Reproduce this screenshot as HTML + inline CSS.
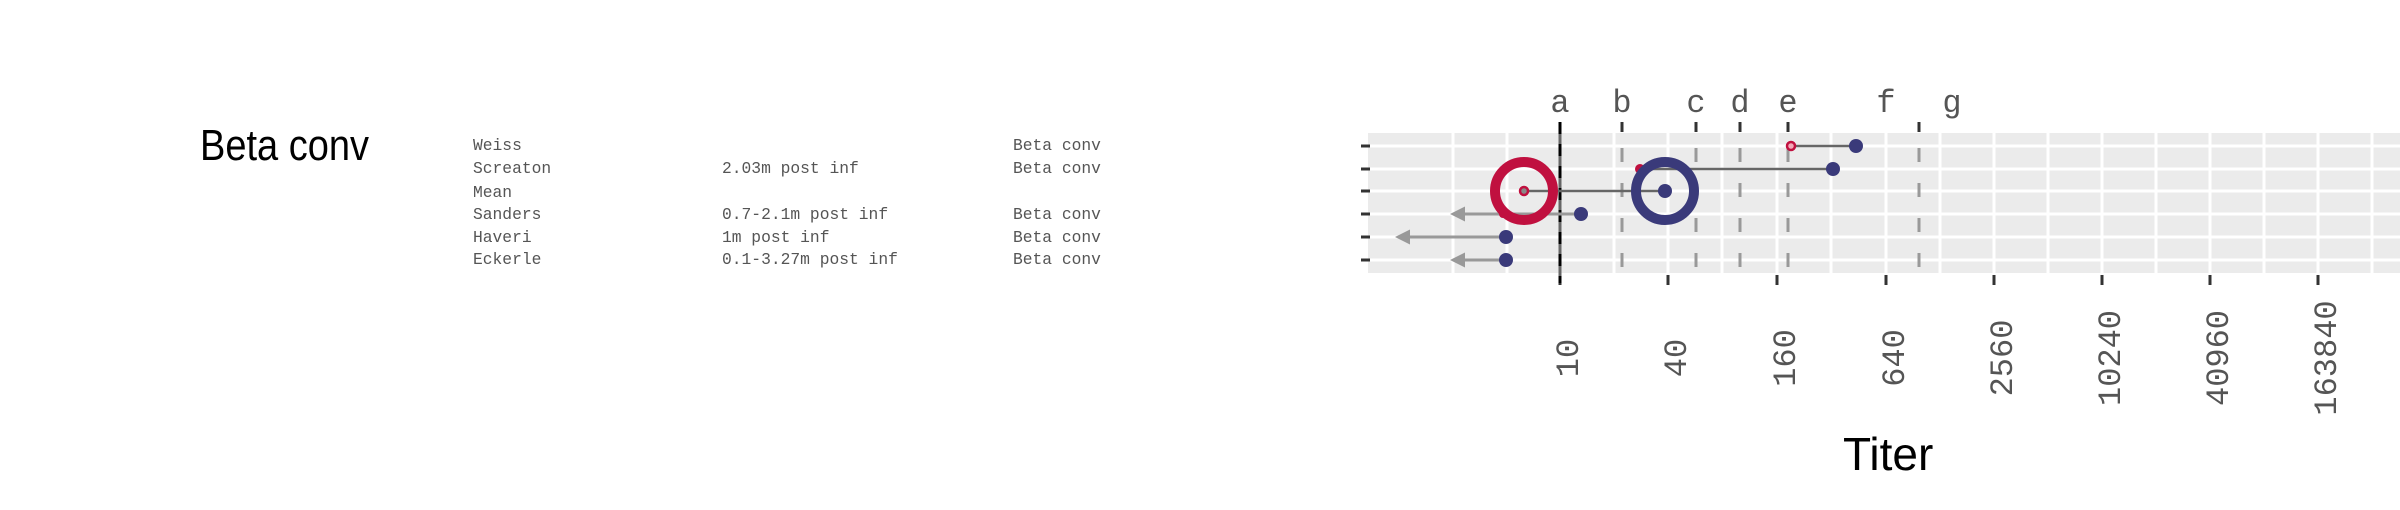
<!DOCTYPE html>
<html><head><meta charset="utf-8"><style>
html,body{margin:0;padding:0;background:#fff;}
svg{display:block;}
</style></head><body>
<svg width="2400" height="510" viewBox="0 0 2400 510" xmlns="http://www.w3.org/2000/svg">
<defs>
<marker id="ah" viewBox="0 0 10 10" refX="2" refY="5" markerWidth="5" markerHeight="5" orient="auto-start-reverse">
<path d="M0,0 L10,5 L0,10 Z" fill="#999"/>
</marker>
</defs>
<text x="200" y="160" font-family="Liberation Sans, sans-serif" font-size="40" fill="#000" transform="translate(200,160) scale(0.95,1.08) translate(-200,-160)">Beta conv</text>
<g font-family="Liberation Mono, monospace" font-size="16.3" fill="#555">
<text x="473" y="150">Weiss</text>
<text x="473" y="173">Screaton</text>
<text x="473" y="197">Mean</text>
<text x="473" y="219">Sanders</text>
<text x="473" y="242">Haveri</text>
<text x="473" y="264">Eckerle</text>
<text x="722" y="173">2.03m post inf</text>
<text x="722" y="219">0.7-2.1m post inf</text>
<text x="722" y="242">1m post inf</text>
<text x="722" y="264">0.1-3.27m post inf</text>
<text x="1013" y="150">Beta conv</text>
<text x="1013" y="173">Beta conv</text>
<text x="1013" y="219">Beta conv</text>
<text x="1013" y="242">Beta conv</text>
<text x="1013" y="264">Beta conv</text>
</g>
<rect x="1368" y="133" width="1032" height="140" fill="#ebebeb"/>
<g stroke="#fff" stroke-width="3">
<line x1="1368" x2="2400" y1="146" y2="146"/><line x1="1368" x2="2400" y1="169" y2="169"/>
<line x1="1368" x2="2400" y1="191" y2="191"/><line x1="1368" x2="2400" y1="214" y2="214"/>
<line x1="1368" x2="2400" y1="237" y2="237"/><line x1="1368" x2="2400" y1="260" y2="260"/>
<line x1="1453" x2="1453" y1="133" y2="273"/><line x1="1507" x2="1507" y1="133" y2="273"/>
<line x1="1560" x2="1560" y1="133" y2="273"/><line x1="1614" x2="1614" y1="133" y2="273"/>
<line x1="1668" x2="1668" y1="133" y2="273"/><line x1="1722" x2="1722" y1="133" y2="273"/>
<line x1="1777" x2="1777" y1="133" y2="273"/><line x1="1831" x2="1831" y1="133" y2="273"/>
<line x1="1886" x2="1886" y1="133" y2="273"/><line x1="1940" x2="1940" y1="133" y2="273"/>
<line x1="1994" x2="1994" y1="133" y2="273"/><line x1="2048" x2="2048" y1="133" y2="273"/>
<line x1="2102" x2="2102" y1="133" y2="273"/><line x1="2156" x2="2156" y1="133" y2="273"/>
<line x1="2210" x2="2210" y1="133" y2="273"/><line x1="2264" x2="2264" y1="133" y2="273"/>
<line x1="2318" x2="2318" y1="133" y2="273"/><line x1="2372" x2="2372" y1="133" y2="273"/>
</g>
<g stroke="#999" stroke-width="3" stroke-dasharray="14 21" stroke-dashoffset="-15">
<line x1="1622" x2="1622" y1="133" y2="273"/><line x1="1696" x2="1696" y1="133" y2="273"/>
<line x1="1740" x2="1740" y1="133" y2="273"/><line x1="1788" x2="1788" y1="133" y2="273"/>
<line x1="1919" x2="1919" y1="133" y2="273"/>
</g>
<g stroke="#333" stroke-width="3">
<line x1="1622" x2="1622" y1="122" y2="132"/><line x1="1696" x2="1696" y1="122" y2="132"/>
<line x1="1740" x2="1740" y1="122" y2="132"/><line x1="1788" x2="1788" y1="122" y2="132"/>
<line x1="1919" x2="1919" y1="122" y2="132"/>
<line x1="1560" x2="1560" y1="275" y2="285"/><line x1="1668" x2="1668" y1="275" y2="285"/>
<line x1="1777" x2="1777" y1="275" y2="285"/><line x1="1886" x2="1886" y1="275" y2="285"/>
<line x1="1994" x2="1994" y1="275" y2="285"/><line x1="2102" x2="2102" y1="275" y2="285"/>
<line x1="2210" x2="2210" y1="275" y2="285"/><line x1="2318" x2="2318" y1="275" y2="285"/>
<line x1="1361" x2="1370" y1="146" y2="146"/><line x1="1361" x2="1370" y1="169" y2="169"/>
<line x1="1361" x2="1370" y1="191" y2="191"/><line x1="1361" x2="1370" y1="214" y2="214"/>
<line x1="1361" x2="1370" y1="237" y2="237"/><line x1="1361" x2="1370" y1="260" y2="260"/>
</g>
<line x1="1560" x2="1560" y1="122" y2="283" stroke="#666" stroke-width="3"/>
<line x1="1560" x2="1560" y1="122" y2="283" stroke="#000" stroke-width="3" stroke-dasharray="12 10"/>
<g stroke="#666" stroke-width="2.5">
<line x1="1791" x2="1856" y1="146" y2="146"/>
<line x1="1640" x2="1833" y1="169" y2="169"/>
<line x1="1524" x2="1665" y1="191" y2="191"/>
</g>
<g stroke="#999" stroke-width="3" marker-end="url(#ah)">
<line x1="1581" x2="1462" y1="214" y2="214"/>
<line x1="1506" x2="1407" y1="237" y2="237"/>
<line x1="1506" x2="1462" y1="260" y2="260"/>
</g>
<circle cx="1640" cy="169" r="5" fill="#c0103f"/>
<circle cx="1503" cy="214" r="4" fill="#c0103f"/>
<circle cx="1524" cy="191" r="29" fill="none" stroke="#c0103f" stroke-width="10"/>
<circle cx="1524" cy="191" r="4" fill="#888" stroke="#c0103f" stroke-width="2.5"/>
<circle cx="1665" cy="191" r="29" fill="none" stroke="#3a3a7a" stroke-width="10"/>
<circle cx="1665" cy="191" r="7" fill="#3a3a7a"/>
<circle cx="1791" cy="146" r="4" fill="#f4a8b8" stroke="#c0103f" stroke-width="2.5"/>
<g fill="#3a3a7a">
<circle cx="1856" cy="146" r="7"/>
<circle cx="1833" cy="169" r="7"/>
<circle cx="1581" cy="214" r="7"/>
<circle cx="1506" cy="237" r="7"/>
<circle cx="1506" cy="260" r="7"/>
</g>
<g font-family="Liberation Mono, monospace" font-size="32" fill="#555" text-anchor="middle">
<text x="1560" y="112">a</text><text x="1622" y="112">b</text><text x="1696" y="112">c</text>
<text x="1740" y="112">d</text><text x="1788" y="112">e</text><text x="1886" y="112">f</text>
<text x="1952" y="112">g</text>
<text transform="translate(1578,358) rotate(-90)">10</text>
<text transform="translate(1686,358) rotate(-90)">40</text>
<text transform="translate(1795,358) rotate(-90)">160</text>
<text transform="translate(1904,358) rotate(-90)">640</text>
<text transform="translate(2012,358) rotate(-90)">2560</text>
<text transform="translate(2120,358) rotate(-90)">10240</text>
<text transform="translate(2228,358) rotate(-90)">40960</text>
<text transform="translate(2336,358) rotate(-90)">163840</text>
</g>
<text x="1843" y="470" font-family="Liberation Sans, sans-serif" font-size="46" fill="#000">Titer</text>
</svg>
</body></html>
